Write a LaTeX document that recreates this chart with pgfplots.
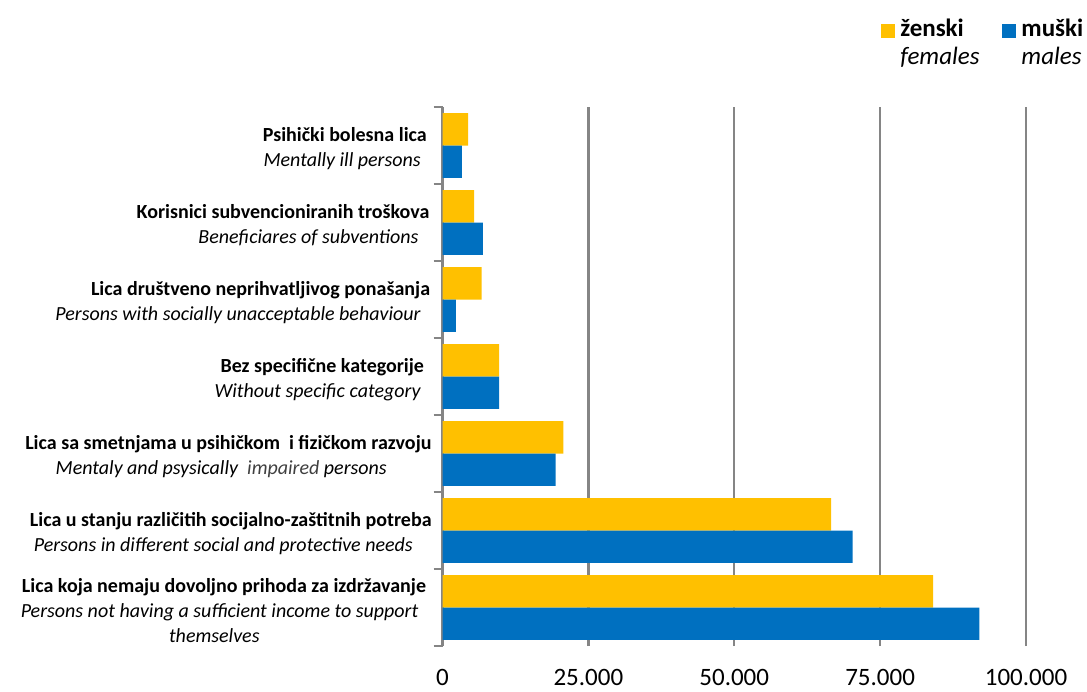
\documentclass[border=0pt]{standalone}
\usepackage{fontspec}
\setmainfont{Carlito}
\usepackage{pgfplots}
\pgfplotsset{compat=1.18}
\definecolor{fem}{HTML}{FFC000}
\definecolor{mal}{HTML}{0070C0}
\definecolor{gridgray}{HTML}{858585}
\newcommand{\tr}[1]{\rule{#1}{0pt}}
\begin{document}
\begin{tikzpicture}
\useasboundingbox (0,0) rectangle (543.5pt,345.5pt);
\begin{axis}[
  at={(221.25pt,22.5pt)}, anchor=south west,
  scale only axis, width=291.75pt, height=269.5pt,
  xmin=0, xmax=100000, ymin=-0.5, ymax=6.5,
  axis x line*=bottom, axis y line*=left,
  x axis line style={draw=none},
  y axis line style={draw=gridgray, line width=1pt},
  xtick={0,25000,50000,75000,100000},
  xticklabels={0,25.000,50.000,75.000,100.000},
  xtick style={draw=none},
  xticklabel style={font=\fontsize{12.5}{15}\selectfont, inner sep=0.5pt, yshift=-6.8pt},
  xmajorgrids, grid style={draw=gridgray, line width=1.2pt},
  ytick={0,1,2,3,4,5,6},
  yticklabels={
    {\textbf{Lica koja nemaju dovoljno prihoda za izdržavanje}\tr{2.75pt}\\\textit{Persons not having a sufficient income to support}\tr{6.6pt}\\\textit{themselves}\tr{86pt}},
    {\textbf{Lica u stanju različitih socijalno-zaštitnih potreba}\\\textit{Persons in different social and protective needs}\tr{9.4pt}},
    {\textbf{Lica sa smetnjama u psihičkom\ \ i fizičkom razvoju}\\\textit{Mentaly and psysically\ \ \textcolor{black!75}{impaired} persons}\tr{22.4pt}},
    {\textbf{Bez specifične kategorije}\tr{3.75pt}\\\textit{Without specific category}\tr{5.25pt}},
    {\textbf{Lica društveno neprihvatljivog ponašanja}\tr{0.75pt}\\\textit{Persons with socially unacceptable behaviour}\tr{5.4pt}},
    {\textbf{Korisnici subvencioniranih troškova}\tr{1.1pt}\\\textit{Beneficiares of subventions}\tr{6.6pt}},
    {\textbf{Psihički bolesna lica}\tr{2.4pt}\\\textit{Mentally ill persons}\tr{5.4pt}}
  },
  yticklabel style={font=\fontsize{10}{12.5}\selectfont, align=right, inner sep=0pt, xshift=-1pt, yshift=-1.5pt},
  major y tick style={draw=none},
  minor ytick={-0.5,0.5,1.5,2.5,3.5,4.5,5.5,6.5},
  minor tick length=4.5pt,
  minor y tick style={draw=gridgray, line width=1pt},
  tick align=outside,
  xbar, bar width=0.42,
  legend style={draw=none, fill=none, legend columns=2,
    at={(rel axis cs:0.741,1.175)}, anchor=north west,
    font=\fontsize{12.5}{14}\selectfont,
    nodes={align=left, inner sep=1pt},
    /tikz/every odd column/.append style={column sep=1.5pt},
    /tikz/every even column/.append style={column sep=10.5pt}},
  legend cell align=left,
  legend image code/.code={\fill[#1,draw=none] (0pt,2.5pt) rectangle (7pt,9.5pt);},
]
\addplot[fill=fem, draw=none, bar shift=0.21] coordinates {
  (84100,0) (66600,1) (20700,2) (9700,3) (6700,4) (5400,5) (4400,6)};
\addlegendentry{\textbf{ženski}\\\textit{females}}
\addplot[fill=mal, draw=none, bar shift=-0.21] coordinates {
  (92000,0) (70300,1) (19400,2) (9700,3) (2300,4) (6900,5) (3300,6)};
\addlegendentry{\textbf{muški}\\\textit{males}}
\end{axis}
\end{tikzpicture}
\end{document}
